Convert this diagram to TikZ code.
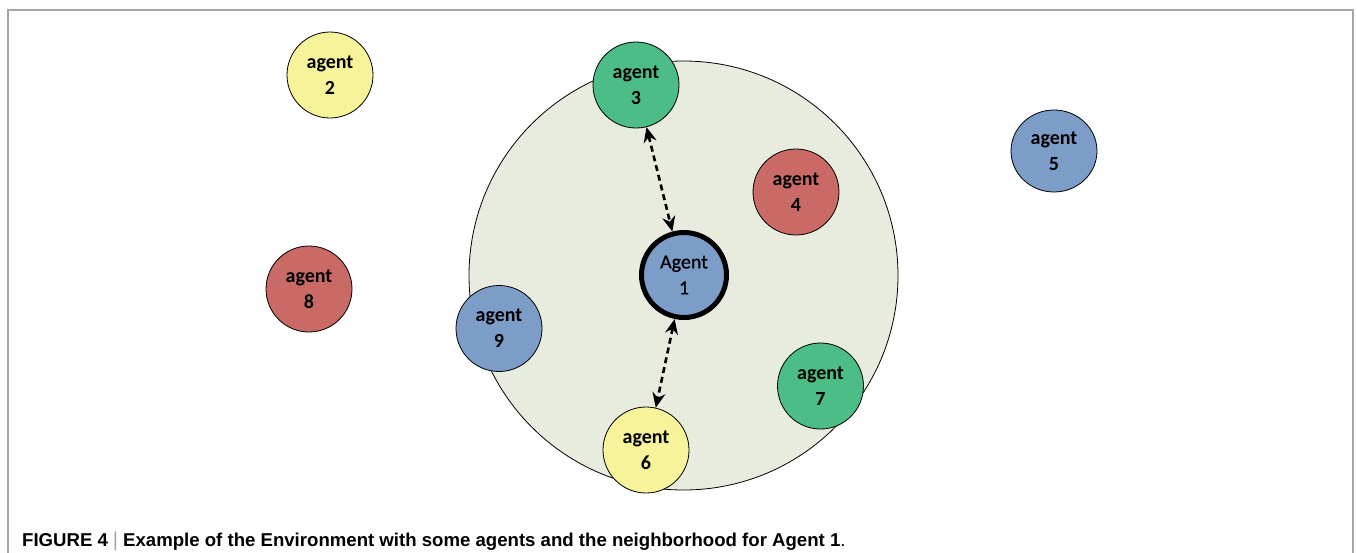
\documentclass[tikz,border=0pt]{standalone}
\usepackage{fontspec}
\setmainfont{Carlito}
\newfontfamily\capfont{Liberation Sans}
\newfontfamily\mefont[FakeBold=0.7]{Carlito}
\usetikzlibrary{arrows.meta,shapes.geometric}

\definecolor{envfill}{HTML}{E8ECDF}
\definecolor{ayellow}{HTML}{F7F39A}
\definecolor{agreen}{HTML}{4CBD86}
\definecolor{ared}{HTML}{C96A66}
\definecolor{ablue}{HTML}{7B9DC7}
\definecolor{framegray}{HTML}{A6A6A6}

\begin{document}
\begin{tikzpicture}[x=1pt,y=-1pt,
  agent/.style={circle,draw=black,line width=0.8pt,minimum size=86pt,inner sep=0pt,
    align=center,font=\fontsize{20}{26}\selectfont\bfseries},
  me/.style={agent,line width=5pt,minimum size=85pt,font=\mefont\fontsize{20}{26}\selectfont},
  link/.style={dash pattern=on 6pt off 4pt,line width=2.6pt,{Stealth[length=15pt,width=13pt]}-{Stealth[length=15pt,width=13pt]}}]
\useasboundingbox (0,0) rectangle (1357,552);
% frame
\draw [framegray,line width=1.6pt] (8,570) -- (8,10) -- (1353,10) -- (1353,570);
% neighbourhood of agent 1
\draw [fill=envfill,line width=0.8pt] (683.5,275.5) circle (214.5);
\node[me,fill=ablue] (a1) at (684,275) {Agent\\1};
\node[agent,fill=ayellow] (a2) at (330,75) {agent\\2};
\node[agent,fill=agreen] (a3) at (636,85) {agent\\3};
\node[agent,fill=ared] (a4) at (796,192) {agent\\4};
\node[agent,ellipse,fill=ablue,minimum width=86pt,minimum height=82pt] (a5) at (1054,151) {agent\\5};
\node[agent,fill=ayellow] (a6) at (646,450) {agent\\6};
\node[agent,fill=agreen] (a7) at (820.5,386) {agent\\7};
\node[agent,fill=ared] (a8) at (309,289) {agent\\8};
\node[agent,fill=ablue] (a9) at (499,328.5) {agent\\9};
\draw [link] (a3.-76) -- (a1.105);
\draw [link] (a1.-102) -- (a6.77);
% caption
\node [anchor=base west,inner sep=0pt,font=\capfont\fontsize{18.6}{20}\selectfont\bfseries] (cap) at (22,546)
  {FIGURE 4\hspace{5pt}{\color{framegray}\mdseries\fontsize{20}{20}\selectfont|}\hspace{5pt}Example of the Environment with some agents and the neighborhood for Agent 1{\mdseries.}};
\end{tikzpicture}
\end{document}
